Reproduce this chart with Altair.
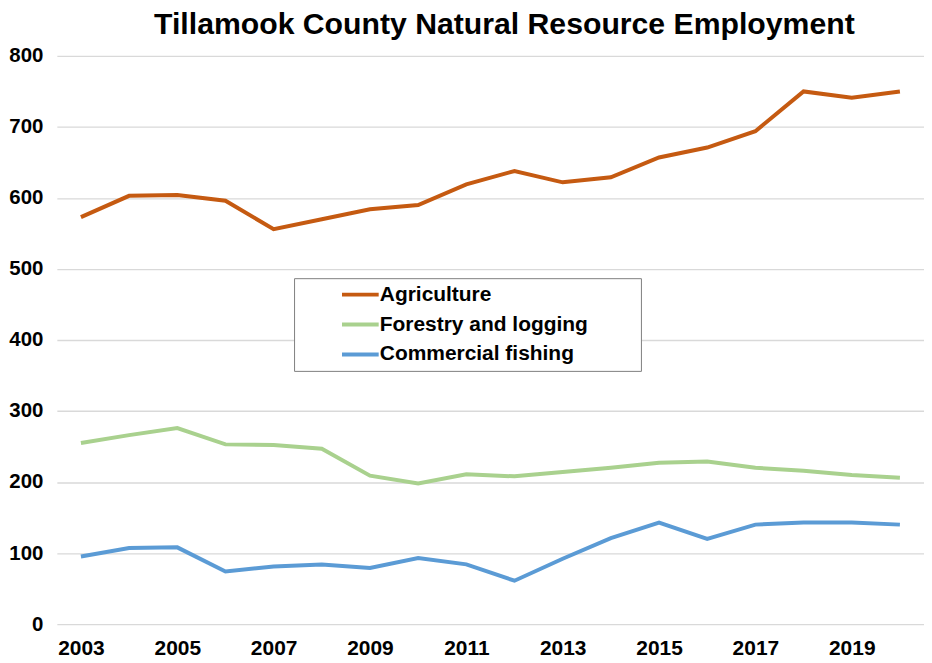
import altair as alt
import pandas as pd

years = list(range(2003, 2021))
agriculture = [573, 603, 604, 596, 556, 570, 584, 590, 619, 638, 622, 629, 657, 671, 694, 750, 741, 750]
forestry = [255, 266, 276, 253, 252, 247, 209, 198, 211, 208, 214, 220, 227, 229, 220, 216, 210, 206]
fishing = [95, 107, 108, 74, 81, 84, 79, 93, 84, 61, 92, 121, 143, 120, 140, 143, 143, 140]

series_names = ["Agriculture", "Forestry and logging", "Commercial fishing"]
series_colors = ["#C55A11", "#A9D18E", "#5B9BD5"]
x_ticks = [2003, 2005, 2007, 2009, 2011, 2013, 2015, 2017, 2019]
y_ticks = [0, 100, 200, 300, 400, 500, 600, 700, 800]

rows = []
for name, vals in zip(series_names, [agriculture, forestry, fishing]):
    for yr, v in zip(years, vals):
        rows.append({"Year": yr, "Employment": v, "Series": name})
df = pd.DataFrame(rows)

FONT = "Liberation Sans, Arial, sans-serif"
PAD = "\u00a0" * 8 + "\u200b"

chart = alt.Chart(df).mark_line(strokeWidth=4).encode(
    x=alt.X("Year:Q",
            scale=alt.Scale(domain=[2002.5, 2020.5], nice=False, zero=False),
            axis=alt.Axis(values=x_ticks, format="d", title=None, grid=False,
                          domain=False, ticks=False, labelFontSize=21,
                          labelFontWeight="bold", labelColor="#000000",
                          labelFont=FONT, labelPadding=14, labelFlush=False)),
    y=alt.Y("Employment:Q",
            scale=alt.Scale(domain=[0, 800], nice=False),
            axis=alt.Axis(values=y_ticks, title=None, grid=True, gridColor="#D9D9D9",
                          gridWidth=1.3, domain=False, ticks=False, labelFontSize=20.5,
                          labelFontWeight="bold", labelColor="#000000",
                          labelFont=FONT, labelPadding=14)),
    color=alt.Color("Series:N",
                    scale=alt.Scale(domain=series_names, range=series_colors),
                    legend=alt.Legend(
                        title=None, orient="none", legendX=238, legendY=223,
                        direction="vertical",
                        strokeColor="#7F7F7F", fillColor="#FFFFFF", padding=6,
                        symbolType="M-2.3,0H2.3", symbolSize=256, symbolStrokeWidth=4,
                        symbolOffset=50, labelOffset=9, rowPadding=8,
                        labelFontSize=21, labelFontWeight="bold", labelColor="#000000",
                        labelFont=FONT, labelLimit=0,
                        labelExpr="datum.label + '" + PAD + "'")),
).properties(
    width=870,
    height=570,
    padding={"left": 49, "top": 47, "right": 0, "bottom": 36},
    autosize=alt.AutoSizeParams(type="none"),
    title=alt.TitleParams("Tillamook County Natural Resource Employment",
                          fontSize=30.3, fontWeight="bold", font=FONT,
                          color="#000000", anchor="middle", offset=6, dx=14),
).configure_view(stroke=None)

chart.save("out.html", embed_options={"renderer": "svg", "actions": False})
